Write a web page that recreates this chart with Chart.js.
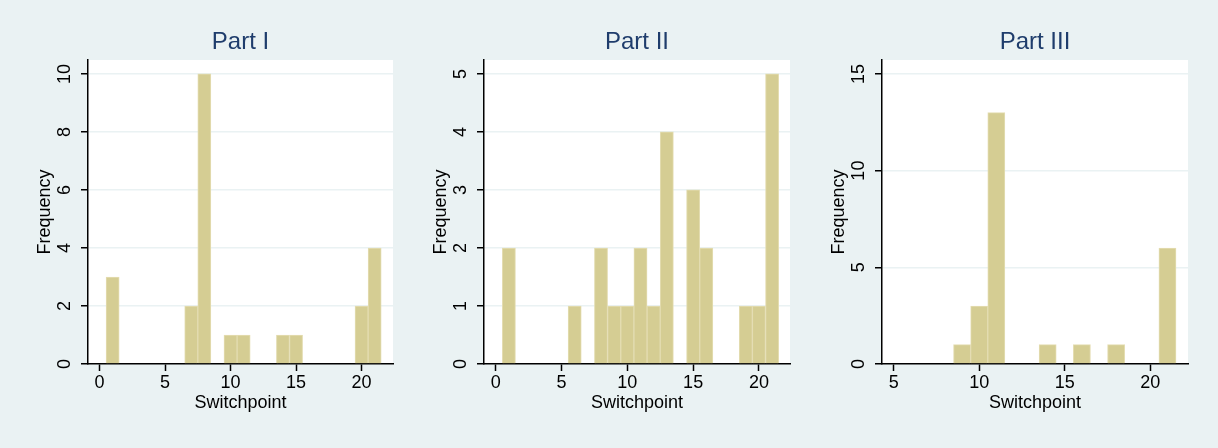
<!DOCTYPE html>
<html>
<head>
<meta charset="utf-8">
<script src="https://cdn.jsdelivr.net/npm/chart.js@4/dist/chart.umd.min.js"></script>
<style>
  body { margin: 0; background: #eaf2f3; width: 1218px; height: 448px; position: relative; overflow: hidden; }
  canvas { position: absolute; top: 0; }
</style>
</head>
<body>
<canvas id="c1" width="385" height="448" style="left:18px"></canvas>
<canvas id="c2" width="386" height="448" style="left:414px"></canvas>
<canvas id="c3" width="386" height="448" style="left:812px"></canvas>
<script>
// switchpoint bins and frequencies
const titles = ['Part I', 'Part II', 'Part III'];

const bins1 = [1, 7, 8, 10, 11, 14, 15, 20, 21];
const freq1 = [3, 2, 10, 1, 1, 1, 1, 2, 4];
const bins2 = [1, 6, 8, 9, 10, 11, 12, 13, 15, 16, 19, 20, 21];
const freq2 = [2, 1, 2, 1, 1, 2, 1, 4, 3, 2, 1, 1, 5];
const bins3 = [9, 10, 11, 14, 16, 18, 21];
const freq3 = [1, 3, 13, 1, 1, 1, 6];

const xTicks1 = [0, 5, 10, 15, 20];
const yTicks1 = [0, 2, 4, 6, 8, 10];
const xTicks2 = [0, 5, 10, 15, 20];
const yTicks2 = [0, 1, 2, 3, 4, 5];
const xTicks3 = [5, 10, 15, 20];
const yTicks3 = [0, 5, 10, 15];

const FONT = "'Liberation Sans', Arial, Helvetica, sans-serif";
const BG = '#eaf2f3';

// white plot region
const plotBg = {
  id: 'plotBg',
  beforeDraw(chart) {
    const a = chart.chartArea, ctx = chart.ctx;
    ctx.save();
    ctx.fillStyle = '#ffffff';
    ctx.fillRect(a.left, a.top, a.right - a.left, a.bottom - a.top);
    ctx.restore();
  }
};

const makeChart = (id, title, bins, freq, xTicks, yTicks, xr, yMax, yPad) => {
  new Chart(document.getElementById(id), {
    type: 'bar',
    data: {
      datasets: [{
        data: bins.map((b, i) => ({ x: b, y: freq[i] })),
        backgroundColor: '#d5cd93',
        borderColor: '#e4ddb2',
        borderWidth: 1,
        barPercentage: 1,
        categoryPercentage: 1
      }]
    },
    options: {
      responsive: false,
      animation: false,
      layout: { padding: { left: 0, right: 10, top: 0, bottom: 0 } },
      plugins: {
        legend: { display: false },
        tooltip: { enabled: false },
        title: {
          display: true,
          text: title,
          fullSize: false,
          color: '#1f3d6c',
          font: { family: FONT, size: 24, weight: 'normal' },
          padding: { top: 28, bottom: 3.2 }
        }
      },
      scales: {
        x: {
          type: 'linear',
          min: xr[0],
          max: xr[1],
          offset: false,
          z: 1,
          afterBuildTicks: s => { s.ticks = xTicks.map(v => ({ value: v })); },
          afterFit: s => { s.height = 84; },
          grid: { offset: false, drawOnChartArea: false, tickColor: '#000', tickLength: 7, tickWidth: 1.5 },
          border: { color: '#000', width: 1.5 },
          ticks: { color: '#000', padding: 1, maxRotation: 0, font: { family: FONT, size: 18 }, callback: v => String(v) },
          title: { display: true, text: 'Switchpoint', color: '#000', font: { family: FONT, size: 18 }, padding: { top: 0, bottom: 34 } }
        },
        y: {
          min: 0,
          max: yMax,
          afterBuildTicks: s => { s.ticks = yTicks.map(v => ({ value: v })); },
          afterFit: s => { s.width = 70; },
          grid: {
            color: c => (c.tick && c.tick.value === 0) ? 'rgba(0,0,0,0)' : BG,
            lineWidth: 1.5,
            tickColor: '#000',
            tickLength: 7,
            tickWidth: 1.5
          },
          border: { color: '#000', width: 1.5 },
          ticks: {
            color: '#000',
            minRotation: 90,
            maxRotation: 90,
            crossAlign: 'center',
            padding: yPad,
            font: { family: FONT, size: 18 },
            callback: v => String(v)
          },
          title: { display: true, text: 'Frequency', color: '#000', font: { family: FONT, size: 18 }, padding: { top: 16, bottom: 0 } }
        }
      }
    },
    plugins: [plotBg]
  });
};

makeChart('c1', titles[0], bins1, freq1, xTicks1, yTicks1, [-0.88, 22.4], 10.48, 5.5);
makeChart('c2', titles[1], bins2, freq2, xTicks2, yTicks2, [-0.89, 22.36], 5.24, 10.5);
makeChart('c3', titles[2], bins3, freq3, xTicks3, yTicks3, [4.32, 22.2], 15.72, 5.5);
</script>
</body>
</html>
